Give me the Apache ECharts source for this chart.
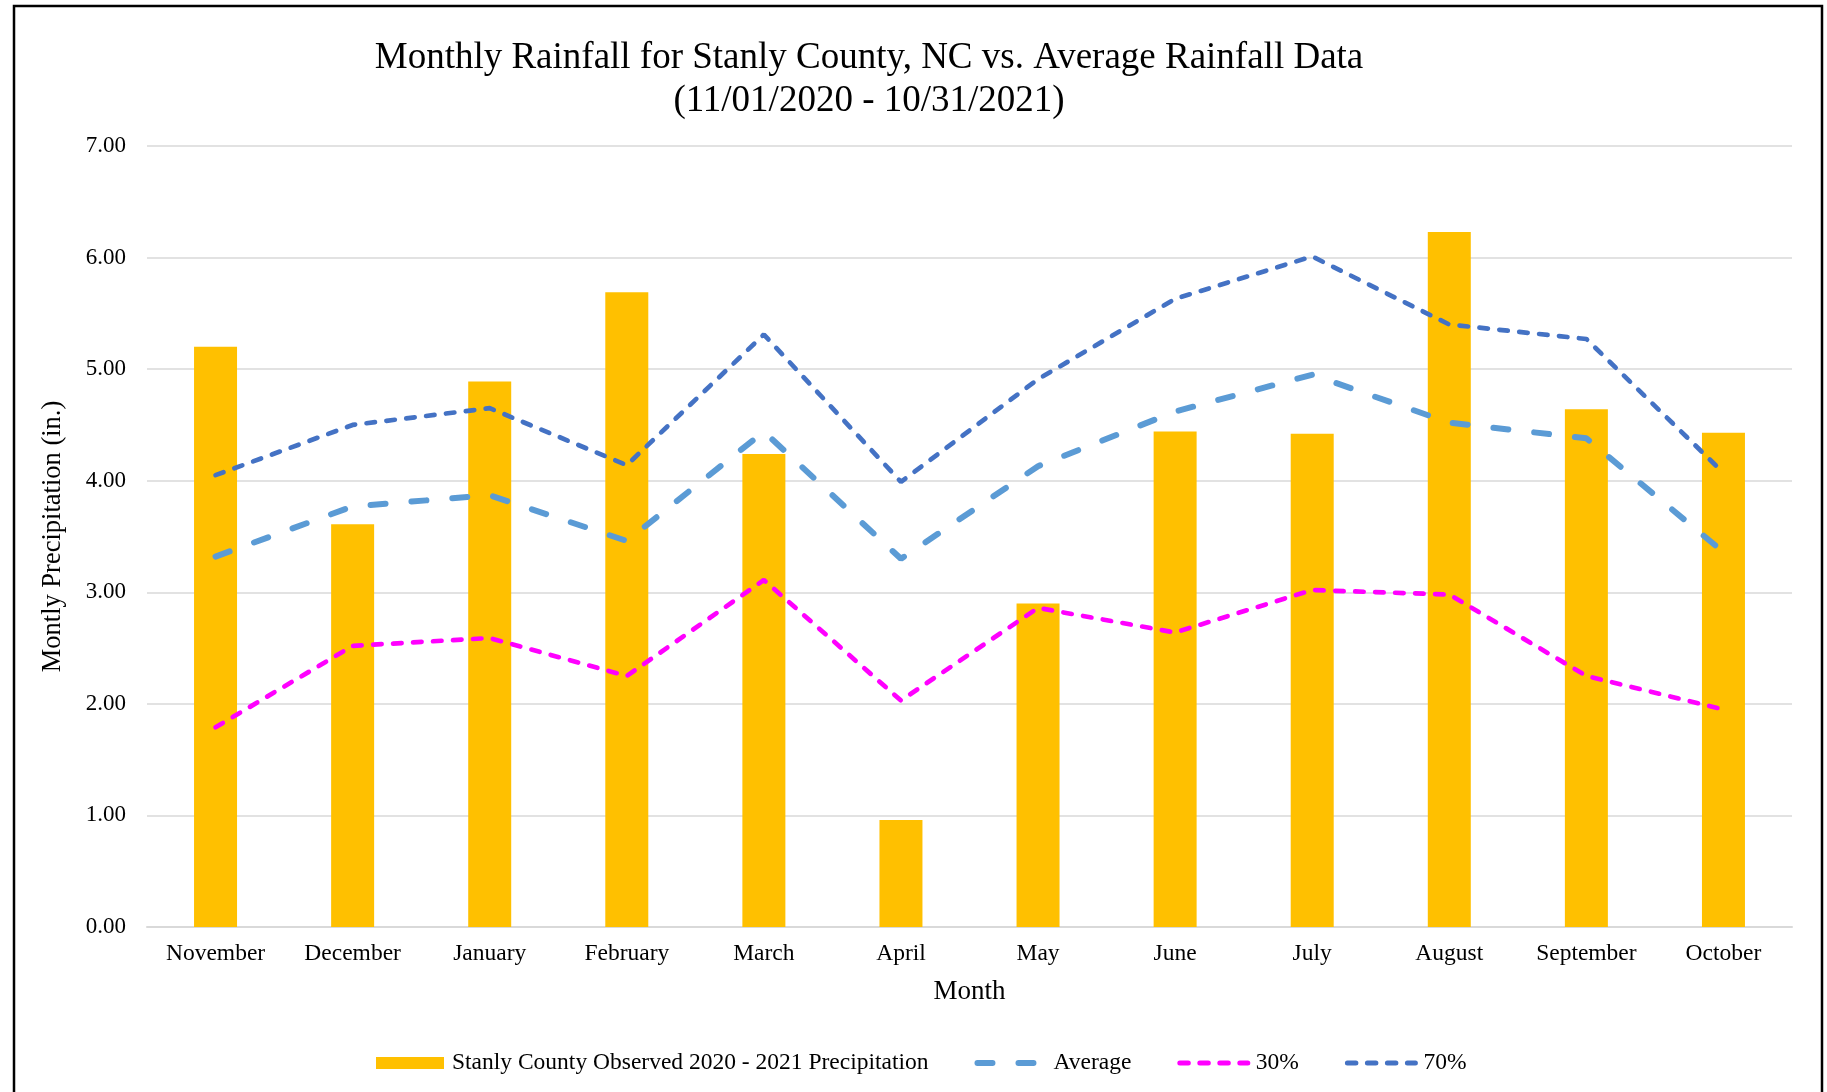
<!DOCTYPE html>
<html>
<head>
<meta charset="utf-8">
<script src="https://cdn.jsdelivr.net/npm/echarts@6/dist/echarts.min.js"></script>
<style>
  html, body { margin: 0; padding: 0; background: #fff; }
  #chart { width: 1827px; height: 1092px; }
</style>
</head>
<body>
<div id="chart"></div>
<script>
const months = ["November", "December", "January", "February", "March", "April",
  "May", "June", "July", "August", "September", "October"]
const observed = [5.20, 3.61, 4.89, 5.69, 4.24, 0.96, 2.90, 4.44, 4.42, 6.23, 4.64, 4.43]
const average = [3.32, 3.77, 3.87, 3.46, 4.44, 3.30, 4.13, 4.62, 4.95, 4.52, 4.38, 3.36]
const pct30 = [1.79, 2.52, 2.59, 2.25, 3.11, 2.03, 2.86, 2.64, 3.02, 2.98, 2.25, 1.95]
const pct70 = [4.05, 4.50, 4.65, 4.14, 5.31, 3.99, 4.91, 5.63, 6.01, 5.40, 5.27, 4.07]

const serif = "'Liberation Serif', 'Times New Roman', serif"

const chart = echarts.init(document.getElementById("chart"))

// legend: hide the little symbol on the line items, keep a thick dashed stroke
const lineItem = (name, width) => ({ name, itemStyle: { opacity: 0 }, lineStyle: { width } })

chart.setOption({
  backgroundColor: "#fff",
  animation: false,
  graphic: [
    {
      type: "rect",
      shape: { x: 14, y: 6, width: 1808, height: 1100 },
      style: { fill: "none", stroke: "#000", lineWidth: 2.5 },
      silent: true
    },
    {
      type: "text",
      x: 869, y: 58,
      style: {
        text: "Monthly Rainfall for Stanly County, NC vs. Average Rainfall Data",
        font: "37px " + serif, fill: "#000", align: "center", verticalAlign: "middle"
      }
    },
    {
      type: "text",
      x: 869, y: 101,
      style: {
        text: "(11/01/2020 - 10/31/2021)",
        font: "37px " + serif, fill: "#000", align: "center", verticalAlign: "middle"
      }
    }
  ],
  grid: { left: 147, right: 35, top: 146, bottom: 165, containLabel: false },
  legend: {
    left: 371,
    top: 1046,
    itemWidth: 68,
    itemHeight: 12,
    itemGap: 46,
    textStyle: { fontFamily: serif, fontSize: 23.5, color: "#000", padding: [0, 0, 0, 3] },
    data: [
      { name: "Stanly County Observed 2020 - 2021 Precipitation", icon: "rect" },
      lineItem("Average", 6),
      lineItem("30%", 5),
      lineItem("70%", 5)
    ]
  },
  xAxis: {
    type: "category",
    data: months,
    name: "Month",
    nameLocation: "middle",
    nameGap: 51,
    nameTextStyle: { fontFamily: serif, fontSize: 27, color: "#000" },
    axisLine: { lineStyle: { color: "#d9d9d9", width: 2 } },
    axisTick: { show: false },
    axisLabel: { fontFamily: serif, fontSize: 23.5, color: "#000", margin: 15, interval: 0 }
  },
  yAxis: {
    type: "value",
    min: 0, max: 7, interval: 1,
    name: "Montly Precipitation (in.)",
    nameLocation: "middle",
    nameGap: 80,
    nameTextStyle: { fontFamily: serif, fontSize: 26.5, color: "#000" },
    axisLine: { show: false },
    axisTick: { show: false },
    splitLine: { lineStyle: { color: "#d9d9d9", width: 1.5 } },
    axisLabel: {
      fontFamily: serif, fontSize: 23, color: "#000", margin: 21,
      formatter: (v) => v.toFixed(2)
    }
  },
  series: [
    {
      name: "Stanly County Observed 2020 - 2021 Precipitation",
      type: "bar",
      data: observed,
      barWidth: 43,
      itemStyle: { color: "#FFC000" }
    },
    {
      name: "Average",
      type: "line",
      data: average,
      symbol: "none",
      lineStyle: { color: "#5B9BD5", width: 6, type: [15, 26], cap: "round" },
      itemStyle: { color: "#5B9BD5" }
    },
    {
      name: "30%",
      type: "line",
      data: pct30,
      symbol: "none",
      lineStyle: { color: "#FF00FF", width: 4.7, type: [8.5, 11.5], cap: "round" },
      itemStyle: { color: "#FF00FF" }
    },
    {
      name: "70%",
      type: "line",
      data: pct70,
      symbol: "none",
      lineStyle: { color: "#4472C4", width: 4.7, type: [8.5, 11.5], cap: "round" },
      itemStyle: { color: "#4472C4" }
    }
  ]
})
</script>
</body>
</html>
